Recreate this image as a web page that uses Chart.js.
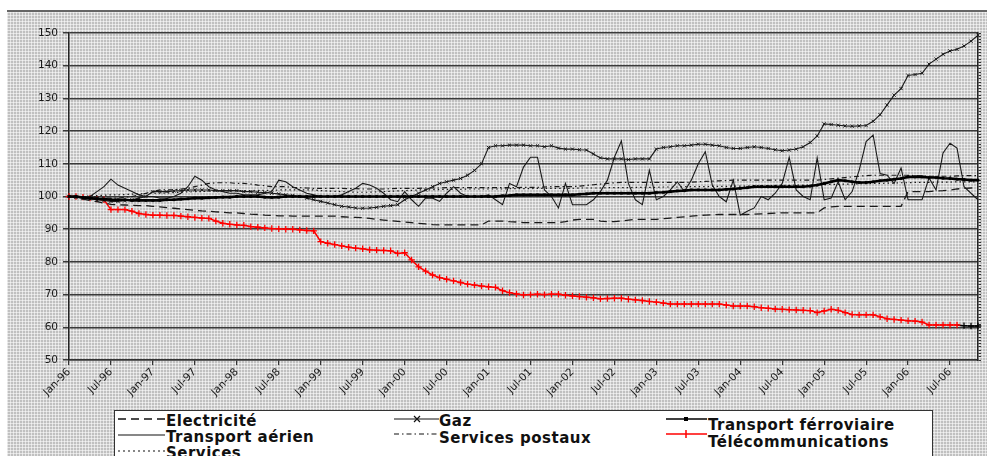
<!DOCTYPE html>
<html><head><meta charset="utf-8">
<script src="https://cdn.jsdelivr.net/npm/chart.js@4/dist/chart.umd.min.js"></script>
<style>
html,body{margin:0;padding:0;width:987px;height:456px;overflow:hidden;background:#fff;}
#bg{position:absolute;left:7px;top:10px;width:980px;height:446px;border-top:2px solid #666;
 background-color:#c0c0c0;
 background-image:linear-gradient(90deg,rgba(255,255,255,0.55) 1px,transparent 1px),linear-gradient(rgba(255,255,255,0.55) 1px,transparent 1px);
 background-size:3px 3px;}
#wrap{position:absolute;left:0;top:0;width:987px;height:408px;}
#legend{position:absolute;left:114px;top:410px;width:817px;height:60px;background:#fff;border:1px solid #333;font-family:"DejaVu Sans",sans-serif;font-weight:bold;font-size:15px;letter-spacing:0.5px;color:#111;}
.it{position:absolute;white-space:nowrap;line-height:16px;}
.ls{position:absolute;}
</style></head>
<body>
<div id="bg"></div>
<div id="wrap"><canvas id="c" width="987" height="408"></canvas></div>
<div id="legend">
  <svg class="ls" style="left:3px;top:0" width="48" height="50">
    <line x1="0" y1="8" x2="47" y2="8" stroke="#111" stroke-width="1.3" stroke-dasharray="8,5"/>
    <line x1="0" y1="24" x2="47" y2="24" stroke="#111" stroke-width="1.2"/>
    <line x1="0" y1="40" x2="47" y2="40" stroke="#111" stroke-width="1.2" stroke-dasharray="2,3"/>
  </svg>
  <div class="it" style="left:51px;top:2px">Electricité</div>
  <div class="it" style="left:51px;top:18px">Transport aérien</div>
  <div class="it" style="left:51px;top:34px">Services</div>
  <svg class="ls" style="left:279px;top:0" width="46" height="50">
    <line x1="0" y1="8" x2="45" y2="8" stroke="#111" stroke-width="1.2"/>
    <path d="M20 5 L26 11 M26 5 L20 11" stroke="#111" stroke-width="1.2"/>
    <line x1="0" y1="23" x2="45" y2="23" stroke="#111" stroke-width="1.2" stroke-dasharray="5,3,1.5,3"/>
  </svg>
  <div class="it" style="left:324px;top:2px">Gaz</div>
  <div class="it" style="left:324px;top:19px">Services postaux</div>
  <svg class="ls" style="left:551px;top:0" width="42" height="50">
    <line x1="0" y1="8" x2="41" y2="8" stroke="#000" stroke-width="1.5"/>
    <rect x="18" y="6" width="4" height="4" fill="#000"/>
    <line x1="0" y1="23" x2="41" y2="23" stroke="#ff0000" stroke-width="1.5"/>
    <line x1="20" y1="19" x2="20" y2="27" stroke="#ff0000" stroke-width="1.5"/>
  </svg>
  <div class="it" style="left:593px;top:6px">Transport férroviaire</div>
  <div class="it" style="left:593px;top:23px">Télécommunications</div>
</div>
<script>
const monthNames = ["Jan","Feb","Mar","Apr","May","Jun","Jul","Aug","Sep","Oct","Nov","Dec"];
const years = ["96","97","98","99","00","01","02","03","04","05","06"];
const months = [];
for (const y of years) for (const m of monthNames) months.push(m + "-" + y);
months.length = 131; // Jan-96 .. Nov-06

const yTicks = [50,60,70,80,90,100,110,120,130,140,150];

const electricite = [
 100,99.6,99.2,98.8,98.4,98,97.6,97.5,97.4,97.3,97.2,97.2,
 97,96.8,96.6,96.4,96.2,96,95.8,95.6,95.5,95.3,95.2,95,
 95,94.8,94.6,94.5,94.3,94.2,94.1,94.1,94,94,94,94,
 94,94,94,93.8,93.7,93.6,93.5,93.3,93,92.8,92.6,92.4,
 92.2,92,91.8,91.6,91.4,91.3,91.3,91.3,91.3,91.3,91.3,91.3,
 92.5,92.5,92.5,92.3,92.2,92,92,92,92,92,92,92.3,
 92.8,93,93,93,92.5,92.3,92.3,92.5,92.8,93,93,93,
 93,93.2,93.4,93.6,93.8,94,94.2,94.3,94.4,94.5,94.5,94.5,
 94.5,94.5,94.6,94.7,94.8,94.9,95,95,95,95,95,95,
 96.5,96.8,97,97,97,97,97,97,97,97,97,97,
 101.5,101.5,101.5,101.5,101.7,101.8,102,102.3,102.5,102.6,102.7];

const gaz = [
 100,99.8,99.5,99.3,99,98.8,98.5,98.5,98.7,99,99.5,100,
 101.5,101.5,101.5,101.7,101.8,102,102,102,102,101.8,101.8,101.8,
 101.8,101.5,101.5,101.3,101.2,101,100.8,100.5,100.3,100,99.5,99,
 98.5,98,97.5,97,96.8,96.5,96.4,96.5,96.7,97,97.2,97.5,
 99,100,101,102,103,104,104.5,105,105.5,106.5,108,110,
 115,115.5,115.5,115.7,115.7,115.7,115.5,115.5,115.2,115.5,114.8,114.5,
 114.5,114.3,114.2,113,111.8,111.5,111.5,111.5,111.3,111.5,111.5,111.5,
 114.5,115,115.2,115.5,115.5,115.7,116,116,115.7,115.5,115,114.7,
 114.7,115,115.2,115,114.7,114.3,114,114.2,114.5,115.2,116.5,118.5,
 122.2,122,121.8,121.6,121.5,121.6,121.7,123,125,128,131,133,
 137,137.3,137.7,140.5,142,143.5,144.5,145,146,147.5,149.3];

const ferroviaire = [
 100,100,99.7,99.5,99.3,99.2,99,99,99,98.8,98.8,98.8,
 98.8,98.8,99,99,99.2,99.3,99.5,99.5,99.6,99.7,99.8,99.8,
 100,100,100,100,99.8,99.7,99.8,100,100,100,100,100,
 100,100,100,100,100,100,100,100,100,100,100,100,
 100,100,100,100,100,100,100,100,100,100,100,100,
 100,100,100.2,100.3,100.5,100.5,100.5,100.5,100.5,100.5,100.5,100.5,
 100.5,100.7,100.8,101,101,101,101,101,101,101,101,101,
 101.2,101.3,101.5,101.7,101.8,102,102,102,102,102,102.2,102.3,
 102.5,102.7,103,103,103,103,103,103,103,103,103.2,103.5,
 104,104.5,105,104.8,104.5,104.3,104.3,104.5,104.8,105,105.3,105.5,
 106,106,106,105.8,105.8,105.6,105.5,105.3,105.2,105,105];

const aerien = [
 100,100,99.5,100,101.5,103,105.3,103.5,102.5,101.5,100.5,100,
 100,99.5,99.5,100,101,103,106.2,105,103,102,101.5,101,
 101,100.5,100.5,100.5,101,101.5,105,104.5,103,102,101,100.5,
 100,100,100,100.5,101.5,102.5,104,103.5,102.5,101,99,98.4,
 101.5,99,97,99.5,99.5,98.5,101,103,101,100,100,100,
 100.5,99,97.5,104,103,109,112,112,102,100,96.5,104,
 97.5,97.5,97.5,99,101.5,105,112,117,104,99,97.5,108,
 99,100,102,104.5,101.5,105,110,113.7,103.5,100,98.4,105,
 94.3,95.5,96.5,100,99,101,104,112,102,100,99,111.8,
 99,99.5,104.5,99,101.5,108,116.8,118.8,107,106.5,104,108.7,
 99,99,99,105.7,102,113.3,116.3,114.8,103,101,99];

const postaux = [
 100,100,100,100,99.8,99.5,99.5,99.5,99.8,100,100.5,101,
 101.5,102,102,102,102.3,102.5,103,103.5,104,104.2,104.2,104.2,
 104,104,103.8,103.5,103.3,103,103,103,102.8,102.7,102.6,102.5,
 102.5,102.5,102.5,102.5,102.4,102.4,102.3,102.3,102.3,102.3,102.4,102.5,
 102.5,102.5,102.5,102.6,102.6,102.6,102.7,102.7,102.7,102.7,102.7,102.7,
 102.7,102.7,102.7,102.7,102.7,102.8,102.8,102.8,102.9,103,103,103,
 103,103.2,103.4,103.6,103.8,104,104.2,104.3,104.3,104.3,104.3,104.3,
 104.3,104.3,104.3,104.3,104.3,104.4,104.5,104.6,104.7,104.8,104.9,105,
 105,105,105,105,105,105,105,105,105,105,105,105,
 105.2,105.4,105.6,105.8,106,106.2,106.4,106.5,106.5,106.5,106.5,106.5,
 106.5,106.4,106.3,106.2,106.2,106.2,106.2,106.3,106.4,106.4,106.4];

const services = [
 100,100,100,100.2,100.3,100.4,100.5,100.5,100.6,100.7,100.8,100.9,
 101,101,101.1,101.2,101.3,101.4,101.5,101.5,101.6,101.6,101.7,101.7,
 101.8,101.8,101.8,101.9,101.9,101.9,102,102,102,102,102,102,
 101.8,101.7,101.6,101.5,101.4,101.3,101.3,101.3,101.4,101.5,101.6,101.7,
 101.8,101.9,102,102,102.1,102.1,102.2,102.2,102.2,102.3,102.3,102.3,
 102.3,102.3,102.3,102.4,102.4,102.4,102.4,102.5,102.5,102.5,102.5,102.5,
 102.5,102.6,102.6,102.6,102.6,102.7,102.7,102.7,102.7,102.8,102.8,102.8,
 102.8,102.9,102.9,102.9,103,103,103,103,103.1,103.1,103.1,103.2,
 103.2,103.2,103.3,103.3,103.3,103.4,103.4,103.4,103.5,103.5,103.5,103.6,
 103.6,103.7,103.7,103.8,103.8,103.9,103.9,104,104,104.1,104.1,104.2,
 104.2,104.3,104.3,104.3,104.4,104.4,104.4,104.5,104.5,104.5,104.5];

const telecom = [
 100,100,99.8,99.5,99.2,99,96,96,96,95.5,94.8,94.5,
 94.3,94.3,94.2,94.2,94,93.8,93.6,93.4,93.3,92.5,91.8,91.5,
 91.3,91.2,90.8,90.6,90.4,90.2,90.1,90,90,89.8,89.6,89.5,
 86.2,85.7,85.3,84.9,84.5,84.2,84,83.7,83.6,83.5,83.4,82.6,
 82.8,80.6,78.5,77.2,76,75.2,74.7,74.2,73.7,73.2,72.9,72.6,
 72.4,72.2,71.2,70.6,70.2,69.9,70,70.1,70,70.1,70.1,69.8,
 69.6,69.4,69.2,69,68.7,68.8,68.9,68.9,68.6,68.4,68.2,67.9,
 67.7,67.4,67.1,67.1,67.1,67.1,67.1,67.1,67.1,67.1,66.8,66.5,
 66.5,66.5,66.3,66,65.8,65.6,65.5,65.4,65.3,65.2,65.1,64.5,
 65,65.5,65.2,64.5,63.9,63.8,63.8,63.8,63.2,62.6,62.4,62.2,
 62,61.9,61.6,60.7,60.7,60.7,60.7,60.7,60.5,60.4,60.4];

const ink = '#1a1a1a';
const tickFont = {family:'"DejaVu Sans", sans-serif', size:10.5};

new Chart(document.getElementById('c'), {
  type: 'line',
  data: {
    labels: months,
    datasets: [
      {label:'Transport férroviaire', data: ferroviaire, borderColor:'#000', borderWidth:2.6,
       pointStyle:'rect', pointRadius:1.6, pointBackgroundColor:'#000', pointBorderColor:'#000', pointBorderWidth:0.5, order:0},
      {label:'Gaz', data: gaz, borderColor:ink, borderWidth:1.1,
       pointStyle:'crossRot', pointRadius:2.3, pointBorderColor:ink, pointBorderWidth:1, order:1},
      {label:'Transport aérien', data: aerien, borderColor:ink, borderWidth:1.1, pointRadius:0, order:2},
      {label:'Electricité', data: electricite, borderColor:ink, borderWidth:1.3, borderDash:[8,5], pointRadius:0, order:3},
      {label:'Services postaux', data: postaux, borderColor:ink, borderWidth:1.2, borderDash:[5,3,1.5,3], pointRadius:0, order:4},
      {label:'Services', data: services, borderColor:ink, borderWidth:1.2, borderDash:[1.5,3], pointRadius:0, order:5},
      {label:'Télécommunications', data: telecom, borderColor:'#ff0000', borderWidth:1.5,
       pointStyle:'cross', pointRadius:3.2, pointBorderWidth:1.3,
       pointBorderColor: ctx => ctx.dataIndex >= 128 ? '#000' : '#ff0000',
       segment: {borderColor: ctx => ctx.p0DataIndex >= 127 ? '#000' : '#ff0000'},
       order:10}
    ]
  },
  options: {
    responsive:false, animation:false, devicePixelRatio:1,
    layout:{padding:{top:33,left:0,right:0,bottom:0}},
    plugins:{legend:{display:false}, tooltip:{enabled:false}},
    elements:{line:{tension:0}},
    scales:{
      x:{
        offset:false,
        ticks:{autoSkip:false, maxRotation:45, minRotation:45, color:ink, font:tickFont, padding:1,
          callback:(v,i)=> (i%6===0 ? months[i] : null)},
        grid:{drawOnChartArea:false, color:'#333', tickLength:5, lineWidth:1.2},
        border:{display:true, color:'#333', width:1.5},
        afterFit: s => { s.height = 48; }
      },
      y:{
        min:50, max:150,
        afterBuildTicks: s => { s.ticks = yTicks.map(v => ({value:v})); },
        ticks:{color:ink, font:tickFont, padding:5},
        grid:{color:'#3a3a3a', lineWidth:1.5, tickLength:6},
        border:{display:true, color:'#222', width:1.5},
        afterFit: s => { s.width = 69; }
      },
      y2:{
        position:'right', min:50, max:150,
        ticks:{display:false, stepSize:1, maxTicksLimit:200, autoSkip:false},
        grid:{drawOnChartArea:false, color:'#333', tickLength:3, lineWidth:1},
        border:{display:true, color:'#222', width:1.5},
        afterFit: s => { s.width = 9; }
      }
    }
  }
});
</script>
</body></html>
